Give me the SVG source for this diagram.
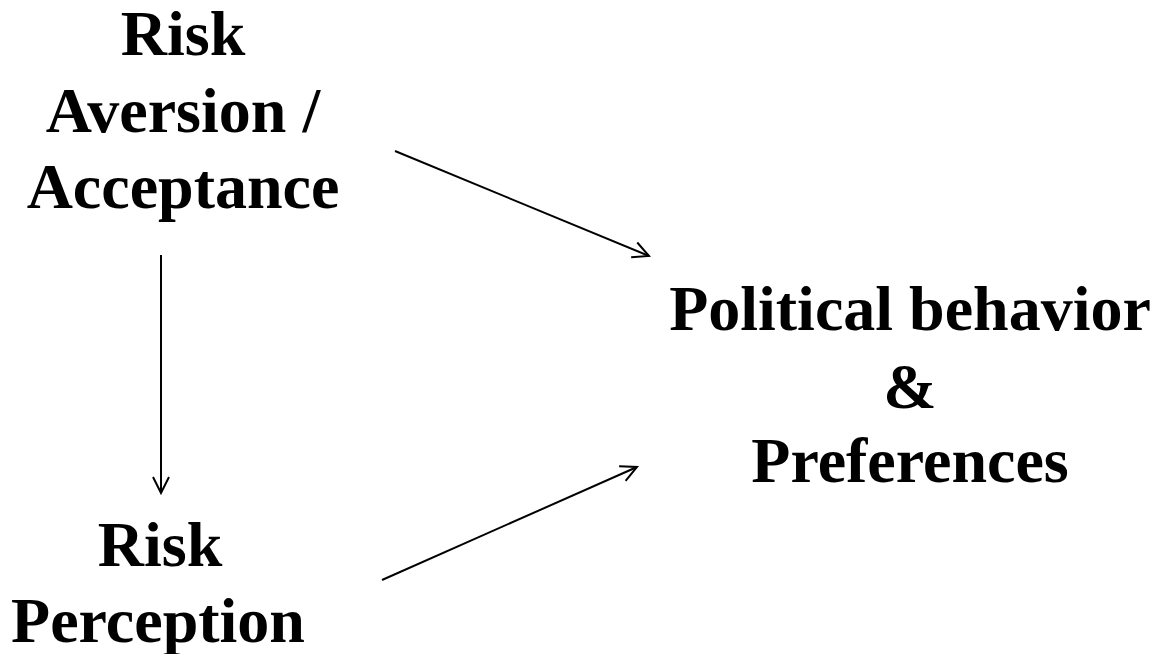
<svg xmlns="http://www.w3.org/2000/svg" width="1168" height="654" viewBox="0 0 1168 654">
<style>
text{font-family:"Liberation Serif","Times New Roman",serif;font-weight:bold;font-size:64px;fill:#000;text-anchor:middle}
.c{stroke:#000;stroke-width:2;fill:none}
</style>
<defs>
<marker id="ah" viewBox="0 0 20 20" refX="18" refY="10" markerWidth="20" markerHeight="20" markerUnits="userSpaceOnUse" orient="auto">
<path d="M2,2 L18,10 L2,18" fill="none" stroke="#000" stroke-width="2"/>
</marker>
</defs>
<rect width="1168" height="654" fill="#fff"/>
<g id="connectors">
<line class="c" x1="395" y1="151" x2="649" y2="256" marker-end="url(#ah)"/>
<line class="c" x1="382" y1="580" x2="637" y2="467" marker-end="url(#ah)"/>
<line class="c" x1="161" y1="255" x2="161" y2="493" marker-end="url(#ah)"/>
</g>
<g id="node-risk-aversion">
<text x="183" y="55">Risk</text>
<text x="183" y="132">Aversion /</text>
<text x="183" y="208">Acceptance</text>
</g>
<g id="node-risk-perception">
<text x="160" y="566">Risk</text>
<text x="158" y="642">Perception</text>
</g>
<g id="node-political">
<text x="910" y="330">Political behavior</text>
<text x="910" y="408">&amp;</text>
<text x="910" y="482">Preferences</text>
</g>
</svg>
